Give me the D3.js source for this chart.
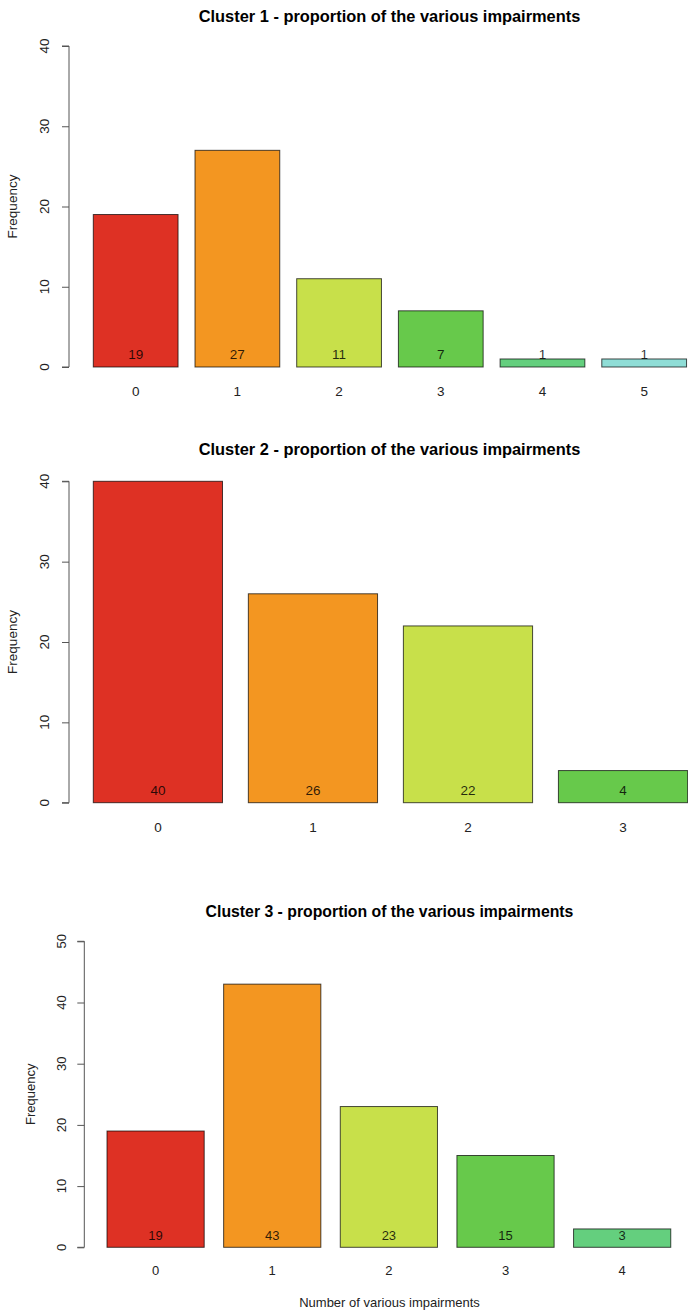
<!DOCTYPE html>
<html>
<head>
<meta charset="utf-8">
<script src="https://cdn.jsdelivr.net/npm/d3@7"></script>
<style>
  html, body { margin: 0; padding: 0; background: #fff; }
  svg { display: block; font-family: "Liberation Sans", Arial, Helvetica, sans-serif; }
</style>
</head>
<body>
<svg id="chart" width="688" height="1312"></svg>
<script>
// Impairment counts per cluster
const cluster1Categories = ["0", "1", "2", "3", "4", "5"];
const cluster1Values = [19, 27, 11, 7, 1, 1];
const cluster2Categories = ["0", "1", "2", "3"];
const cluster2Values = [40, 26, 22, 4];
const cluster3Categories = ["0", "1", "2", "3", "4"];
const cluster3Values = [19, 43, 23, 15, 3];

const cluster1Ticks = [0, 10, 20, 30, 40];
const cluster2Ticks = [0, 10, 20, 30, 40];
const cluster3Ticks = [0, 10, 20, 30, 40, 50];

const barColors = ["#DE3124", "#F39621", "#C8E04A", "#67C94B", "#64CF7E", "#8FDDD6"];

const titles = [
  "Cluster 1 - proportion of the various impairments",
  "Cluster 2 - proportion of the various impairments",
  "Cluster 3 - proportion of the various impairments"
];
const yTitle = "Frequency";
const xTitle = "Number of various impairments";

// Layout of each barplot panel (pixels)
const panels = [
  { cats: cluster1Categories, vals: cluster1Values, ticks: cluster1Ticks, title: titles[0],
    axisX: 69, yTop: 46, yBottom: 367, firstBar: 93.3, unit: 84.75,
    titleY: 16, titleSize: 16.4, font: 13.5, tickLabelX: 44, yTitleX: 12,
    catLabelY: 391, valueLabelAt: 1.6, xTitle: false },
  { cats: cluster2Categories, vals: cluster2Values, ticks: cluster2Ticks, title: titles[1],
    axisX: 69, yTop: 481.3, yBottom: 802.7, firstBar: 93.3, unit: 129.2,
    titleY: 449, titleSize: 16.4, font: 13.5, tickLabelX: 44, yTitleX: 12.5,
    catLabelY: 827, valueLabelAt: 1.6, xTitle: false },
  { cats: cluster3Categories, vals: cluster3Values, ticks: cluster3Ticks, title: titles[2],
    axisX: 84.3, yTop: 941.3, yBottom: 1247.3, firstBar: 107, unit: 97.2,
    titleY: 911, titleSize: 15.8, font: 13, tickLabelX: 61, yTitleX: 30,
    catLabelY: 1270, valueLabelAt: 2, xTitle: true, xTitleY: 1302 }
];

const svg = d3.select("#chart");
const centerX = 389.5;

panels.forEach(p => {
  const g = svg.append("g");
  const maxTick = d3.max(p.ticks);
  const y = d3.scaleLinear().domain([0, maxTick]).range([p.yBottom, p.yTop]);
  // barplot units: width 1, space 0.2
  const n = p.cats.length;
  const x = d3.scaleLinear()
    .domain([0.2, 0.2 + 1.2 * n])
    .range([p.firstBar, p.firstBar + p.unit * 1.2 * n]);
  const barLeft = i => 0.2 + 1.2 * i;

  // title
  g.append("text")
    .attr("x", centerX).attr("y", p.titleY).attr("dy", "0.35em")
    .attr("text-anchor", "middle")
    .attr("font-weight", "bold")
    .attr("font-size", p.titleSize)
    .attr("fill", "#000")
    .text(p.title);

  // y axis
  const axis = d3.axisLeft(y).tickValues(p.ticks).tickSize(7).tickFormat("");
  const ax = g.append("g").attr("transform", `translate(${p.axisX},0)`).call(axis);
  ax.selectAll("path, line").attr("stroke", "#555").attr("stroke-width", 1);
  ax.select("path.domain").attr("d", `M-7,${y(maxTick)}H0V${y(0)}H-7`);

  g.selectAll("text.ytick").data(p.ticks).join("text")
    .attr("class", "ytick")
    .attr("transform", d => `translate(${p.tickLabelX},${y(d)}) rotate(-90)`)
    .attr("dy", "0.35em")
    .attr("text-anchor", "middle")
    .attr("font-size", p.font)
    .attr("fill", "#222")
    .text(d => d);

  g.append("text")
    .attr("transform", `translate(${p.yTitleX},${(y(0) + y(maxTick)) / 2}) rotate(-90)`)
    .attr("dy", "0.35em")
    .attr("text-anchor", "middle")
    .attr("font-size", p.font)
    .attr("fill", "#222")
    .text(yTitle);

  // bars
  g.selectAll("rect.bar").data(p.vals).join("rect")
    .attr("class", "bar")
    .attr("x", (d, i) => x(barLeft(i)))
    .attr("width", (d, i) => x(barLeft(i) + 1) - x(barLeft(i)))
    .attr("y", d => y(d))
    .attr("height", d => y(0) - y(d))
    .attr("fill", (d, i) => barColors[i])
    .attr("stroke", "rgba(0,0,0,0.7)")
    .attr("stroke-width", 1);

  // value labels
  g.selectAll("text.val").data(p.vals).join("text")
    .attr("class", "val")
    .attr("x", (d, i) => x(barLeft(i) + 0.5))
    .attr("y", y(p.valueLabelAt))
    .attr("dy", "0.35em")
    .attr("text-anchor", "middle")
    .attr("font-size", p.font)
    .attr("fill", "rgba(0,0,0,0.82)")
    .text(d => d);

  // category labels
  g.selectAll("text.cat").data(p.cats).join("text")
    .attr("class", "cat")
    .attr("x", (d, i) => x(barLeft(i) + 0.5))
    .attr("y", p.catLabelY)
    .attr("dy", "0.35em")
    .attr("text-anchor", "middle")
    .attr("font-size", p.font)
    .attr("fill", "#222")
    .text(d => d);

  if (p.xTitle) {
    g.append("text")
      .attr("x", centerX).attr("y", p.xTitleY).attr("dy", "0.35em")
      .attr("text-anchor", "middle")
      .attr("font-size", p.font)
      .attr("fill", "#222")
      .text(xTitle);
  }
});
</script>
</body>
</html>
